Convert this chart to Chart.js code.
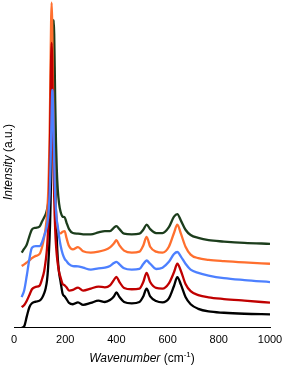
<!DOCTYPE html>
<html>
<head>
<meta charset="utf-8">
<script src="https://cdn.jsdelivr.net/npm/chart.js@4.4.1/dist/chart.umd.min.js"></script>
<style>
  html, body { margin: 0; padding: 0; background: #fff; }
  #wrap { width: 283px; height: 366px; }
</style>
</head>
<body>
<div id="wrap"><canvas id="raman"></canvas></div>
<script>
// wavenumber grid (cm-1), shared by all spectra
const wavenumbers = [30, 40, 50, 60, 70, 85, 100, 110, 118, 124, 129, 133, 136, 139, 141, 143, 145, 147, 149, 150,
  151, 153, 155, 157, 159, 161, 164, 167, 171, 176, 182, 190, 198, 205, 215, 230, 250, 270, 300, 330,
  355, 375, 390, 400, 412, 430, 460, 490, 505, 518, 532, 555, 580, 605, 625, 638, 652, 670, 690, 720,
  760, 820, 900, 1000];

// intensities (a.u., stacked)
const blackSpec = [0, 0.5, 3.5, 6.3, 7.5, 8.0, 8.3, 9.2, 10.6, 12.2, 14.5, 18.2, 22.4, 27.4, 32.1, 38.5, 47.2, 58.7, 72.3, 79.1,
  85.0, 91.0, 85.0, 72.3, 58.7, 47.2, 35.0, 27.4, 21.2, 17.0, 14.1, 10.4, 9.6, 8.8, 7.6, 7.2, 7.8, 7.0, 7.6, 8.3,
  7.9, 8.5, 9.6, 10.8, 9.4, 7.9, 7.5, 7.9, 9.6, 12.0, 9.6, 8.2, 7.8, 9.0, 12.8, 15.5, 13.2, 9.4, 7.2, 5.8,
  5.0, 4.6, 4.3, 4.1];
const redSpec = [6.3, 7.0, 8.3, 10.0, 11.8, 12.5, 12.9, 15.0, 17.4, 20.6, 24.4, 29.9, 36.9, 48.0, 58.5, 70.8, 82.3, 87.2, 82.3, 77.0,
  70.8, 58.5, 48.0, 40.0, 34.2, 29.9, 25.4, 22.4, 19.6, 17.1, 15.4, 13.4, 13.0, 12.4, 11.4, 11.6, 12.3, 11.4, 12.0, 12.6,
  12.4, 13.0, 14.6, 15.6, 14.0, 12.2, 11.8, 12.0, 14.0, 16.8, 14.0, 12.2, 12.0, 13.6, 17.0, 19.6, 17.4, 13.4, 11.2, 10.0,
  9.3, 8.8, 8.3, 7.7];
const blueSpec = [9.4, 11.5, 16.0, 21.0, 24.5, 25.0, 25.0, 26.3, 28.2, 29.6, 31.3, 33.6, 36.4, 40.8, 45.2, 51.0, 58.4, 66.3, 72.0, 72.8,
  72.0, 66.3, 58.2, 50.7, 44.7, 40.3, 35.9, 33.0, 31.0, 28.0, 25.2, 22.6, 21.1, 20.4, 19.5, 18.9, 18.8, 18.4, 17.8, 18.2,
  18.4, 18.9, 19.8, 20.2, 19.4, 18.2, 17.8, 18.0, 19.5, 20.6, 19.6, 18.0, 18.4, 20.2, 22.6, 23.2, 21.8, 19.6, 17.8, 16.8,
  16.0, 15.2, 14.6, 14.0];
const orangeSpec = [18.9, 19.4, 20.0, 20.6, 21.3, 22.0, 22.6, 24.8, 27.8, 30.7, 34.8, 40.3, 47.4, 58.8, 69.6, 82.2, 94.0, 99.5, 94.0, 88.6,
  82.2, 69.6, 58.8, 50.7, 44.7, 40.3, 35.8, 32.8, 30.2, 29.1, 28.9, 29.4, 29.6, 27.5, 25.0, 24.0, 24.7, 23.4, 23.0, 23.3,
  23.8, 24.6, 25.8, 26.8, 25.2, 23.6, 23.0, 23.3, 25.2, 27.8, 24.8, 23.3, 23.0, 24.8, 29.0, 31.6, 28.8, 24.8, 22.4, 21.3,
  20.8, 20.4, 20.0, 19.6];
const greenSpec = [23.0, 24.2, 25.5, 28.0, 30.1, 30.6, 31.0, 32.6, 33.8, 34.8, 36.2, 37.9, 39.8, 42.3, 45.0, 48.7, 53.7, 60.5, 69.4, 74.6,
  80.0, 90.0, 94.2, 90.0, 80.0, 69.4, 56.8, 48.7, 42.3, 38.1, 35.5, 34.0, 33.8, 32.2, 30.2, 29.0, 28.8, 28.6, 28.6, 29.2,
  29.6, 29.6, 30.6, 31.1, 30.2, 28.8, 28.6, 28.8, 30.0, 31.6, 30.2, 29.0, 29.0, 30.8, 34.0, 34.8, 32.8, 30.0, 28.4, 27.5,
  26.8, 26.4, 26.0, 25.7];

const xTicks = [0, 200, 400, 600, 800, 1000];

const FONT = '"Liberation Sans", Arial, Helvetica, sans-serif';

const toPoints = (ys) => wavenumbers.map((x, i) => ({ x, y: ys[i] }));

const spectrum = (data, color) => ({
  data: toPoints(data),
  borderColor: color,
  borderWidth: 2.3,
  pointRadius: 0,
  fill: false,
  cubicInterpolationMode: 'monotone',
});

// draws text pieces (italic / superscript) one after the other
const drawParts = (ctx, parts, cx, y) => {
  let total = 0;
  parts.forEach((p) => {
    ctx.font = p.font;
    p.w = ctx.measureText(p.text).width;
    total += p.w;
  });
  let x = cx - total / 2;
  parts.forEach((p) => {
    ctx.font = p.font;
    ctx.fillText(p.text, x, y + (p.dy || 0));
    x += p.w;
  });
};

const axisTitles = {
  id: 'axisTitles',
  afterDraw(chart) {
    const { ctx, chartArea } = chart;
    ctx.save();
    ctx.fillStyle = '#000';
    ctx.textBaseline = 'alphabetic';
    ctx.textAlign = 'left';

    drawParts(ctx, [
      { text: 'Wavenumber', font: `italic 12px ${FONT}` },
      { text: ' (cm', font: `12px ${FONT}` },
      { text: '-1', font: `8px ${FONT}`, dy: -5 },
      { text: ')', font: `12px ${FONT}` },
    ], (chartArea.left + chartArea.right) / 2, 362);

    ctx.translate(11.5, 162);
    ctx.rotate(-Math.PI / 2);
    drawParts(ctx, [
      { text: 'Intensity', font: `italic 12px ${FONT}` },
      { text: ' (a.u.)', font: `12px ${FONT}` },
    ], 0, 0);
    ctx.restore();
  }
};

window.onload = () => {
  const canvas = document.getElementById('raman');
  new Chart(canvas, {
    type: 'line',
    data: {
      datasets: [
        spectrum(blueSpec, '#4d80ff'),
        spectrum(redSpec, '#c00000'),
        spectrum(orangeSpec, '#ff6f2e'),
        spectrum(greenSpec, '#1c3d1c'),
        spectrum(blackSpec, '#000000'),
      ]
    },
    options: {
      responsive: true,
      maintainAspectRatio: false,
      animation: false,
      devicePixelRatio: 1,
      layout: { padding: { left: 14, right: 0, top: 1, bottom: 13 } },
      plugins: {
        legend: { display: false },
        tooltip: { enabled: false },
      },
      scales: {
        x: {
          type: 'linear',
          min: 0,
          max: 1000,
          afterBuildTicks: (axis) => { axis.ticks = xTicks.map((v) => ({ value: v })); },
          // last label "1000" only needs half its width on the right
          afterFit: (axis) => { axis.paddingRight = 13; },
          grid: { display: false, drawTicks: false },
          border: { display: true, color: '#000', width: 1 },
          ticks: {
            color: '#000',
            padding: 6,
            font: { family: FONT, size: 11 },
            callback: (v) => String(v),
          },
        },
        y: {
          display: false,
          min: 0,
          max: 100,
        }
      }
    },
    plugins: [axisTitles]
  });
};
</script>
</body>
</html>
